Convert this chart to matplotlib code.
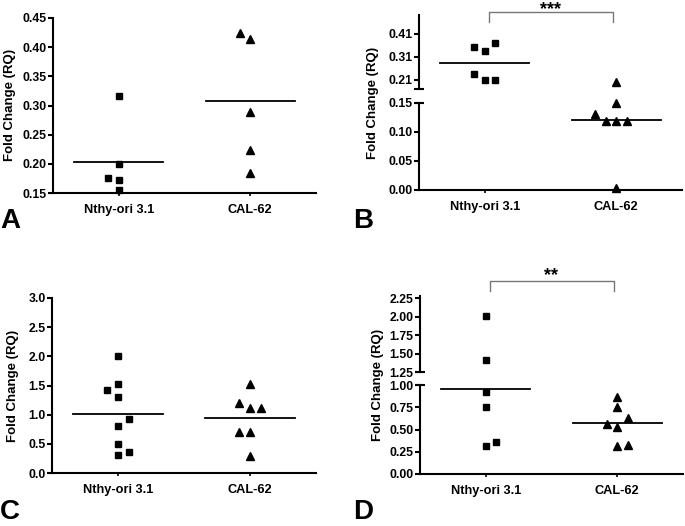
import numpy as np
import matplotlib
matplotlib.use('Agg')
import matplotlib.pyplot as plt
import matplotlib.transforms as mtransforms

plt.rcParams['font.family'] = ['Liberation Sans', 'DejaVu Sans']
plt.rcParams['font.weight'] = 'bold'

groups = ['Nthy-ori 3.1', 'CAL-62']

# panel A
a_nthy = [0.316, 0.199, 0.175, 0.172, 0.155]
a_cal = [0.425, 0.414, 0.289, 0.223, 0.184]
# panel B
b_nthy = [0.352, 0.334, 0.371, 0.236, 0.209, 0.209]
b_cal = [0.200, 0.149, 0.130, 0.119, 0.119, 0.119, 0.003]
# panel C
c_nthy = [2.00, 1.53, 1.42, 1.30, 0.92, 0.80, 0.50, 0.31, 0.36]
c_cal = [1.53, 1.20, 1.11, 1.12, 0.70, 0.70, 0.285]
# panel D
d_nthy = [2.005, 1.418, 0.92, 0.751, 0.309, 0.355]
d_cal = [0.864, 0.750, 0.634, 0.558, 0.525, 0.313, 0.328]

# horizontal spread of overlapping points (steps)
a_nthy_j = [0, 0, -1, 0, 0]
a_cal_j = [-1, 0, 0, 0, 0]
b_nthy_j = [-1, 0, 1, -1, 0, 1]
b_cal_j = [0, 0, -2, -1, 0, 1, 0]
c_nthy_j = [0, 0, -1, 0, 1, 0, 0, 0, 1]
c_cal_j = [0, -1, 0, 1, -1, 0, 0]
d_nthy_j = [0, 0, 0, 0, 0, 1]
d_cal_j = [0, 0, 1, -1, 0, 0, 1]

W, H = 685, 526
fig = plt.figure(figsize=(W/100, H/100), dpi=100)

def rect(x0, yt, x1, yb):
    return [x0/W, 1-yb/H, (x1-x0)/W, (yb-yt)/H]

STEP = 0.081
LW = 1.5
TICKFS = 8.8
CATFS = 9.2

def style(ax, bottom=True):
    for s in ['top', 'right']:
        ax.spines[s].set_visible(False)
    ax.spines['left'].set_linewidth(LW)
    ax.spines['bottom'].set_linewidth(LW)
    if not bottom:
        ax.spines['bottom'].set_visible(False)
    ax.set_xlim(-0.5, 1.5)
    ax.tick_params(axis='y', direction='out', length=3.5, width=LW, labelsize=TICKFS, pad=1)
    if bottom:
        ax.set_xticks([0, 1])
        ax.set_xticklabels(groups, fontsize=CATFS, fontweight='bold')
        ax.tick_params(axis='x', direction='out', length=2, width=1.2, pad=6)
    else:
        ax.set_xticks([])
    for lab in ax.get_yticklabels():
        lab.set_fontweight('bold')

def points(ax, vals, jit, pos, marker, lo=-np.inf, hi=np.inf):
    xs = [pos + j*STEP for v, j in zip(vals, jit) if lo <= v <= hi]
    ys = [v for v in vals if lo <= v <= hi]
    ms = 4.2 if marker == 's' else 5.2
    ax.plot(xs, ys, linestyle='none', marker=marker, color='black', markersize=ms, clip_on=False, zorder=3)

def meanline(ax, vals, pos):
    m = np.mean(vals)
    ax.plot([pos-0.34, pos+0.34], [m, m], color='black', lw=1.3, zorder=2)

def bracket(ax, y, ylegs, stars, ytext):
    tr = mtransforms.blended_transform_factory(ax.transData, ax.transAxes)
    ax.plot([0.03, 0.03, 0.975, 0.975], [ylegs, y, y, ylegs], color='#777777', lw=1.0,
            transform=tr, clip_on=False)
    ax.text(0.5, ytext, stars, transform=tr, ha='center', va='center', fontsize=13, fontweight='bold')

def caps(upper, lower):
    upper.plot([0], [0], marker='_', markersize=7, mew=LW, color='black', transform=upper.transAxes, clip_on=False)
    lower.plot([0], [1], marker='_', markersize=7, mew=LW, color='black', transform=lower.transAxes, clip_on=False)

# ---- A
ax = fig.add_axes(rect(53, 18, 316, 193))
style(ax)
ax.set_ylim(0.15, 0.45)
ax.set_yticks(np.arange(0.15, 0.451, 0.05))
ax.set_yticklabels(['%.2f' % t for t in np.arange(0.15, 0.451, 0.05)])
points(ax, a_nthy, a_nthy_j, 0, 's')
points(ax, a_cal, a_cal_j, 1, '^')
meanline(ax, a_nthy, 0)
meanline(ax, a_cal, 1)

# ---- C
ax = fig.add_axes(rect(52, 298, 316, 473))
style(ax)
ax.set_ylim(0, 3.0)
ax.set_yticks(np.arange(0, 3.01, 0.5))
ax.set_yticklabels(['%.1f' % t for t in np.arange(0, 3.01, 0.5)])
points(ax, c_nthy, c_nthy_j, 0, 's')
points(ax, c_cal, c_cal_j, 1, '^')
meanline(ax, c_nthy, 0)
meanline(ax, c_cal, 1)

# ---- B (broken axis)
bu = fig.add_axes(rect(419, 15, 682, 89))
bl = fig.add_axes(rect(419, 102.7, 682, 190))
style(bu, bottom=False)
style(bl)
bu.set_ylim(0.171, 0.49)
bu.set_yticks([0.21, 0.31, 0.41])
bu.set_yticklabels(['0.21', '0.31', '0.41'])
bl.set_ylim(0, 0.15)
bl.set_yticks([0, 0.05, 0.10, 0.15])
bl.set_yticklabels(['0.00', '0.05', '0.10', '0.15'])
for a, lo, hi in [(bu, 0.16, 1), (bl, -1, 0.16)]:
    points(a, b_nthy, b_nthy_j, 0, 's', lo, hi)
    points(a, b_cal, b_cal_j, 1, '^', lo, hi)
meanline(bu, b_nthy, 0)
meanline(bl, b_cal, 1)
caps(bu, bl)
bracket(bu, 1.04, 0.905, '***', 1.075)

# ---- D (broken axis)
du = fig.add_axes(rect(420, 296, 683, 372))
dl = fig.add_axes(rect(420, 385, 683, 474))
style(du, bottom=False)
style(dl)
du.set_ylim(1.25, 2.28)
du.set_yticks([1.25, 1.50, 1.75, 2.00, 2.25])
du.set_yticklabels(['1.25', '1.50', '1.75', '2.00', '2.25'])
dl.set_ylim(0, 1.0)
dl.set_yticks([0, 0.25, 0.5, 0.75, 1.0])
dl.set_yticklabels(['0.00', '0.25', '0.50', '0.75', '1.00'])
for a, lo, hi in [(du, 1.1, 9), (dl, -1, 1.1)]:
    points(a, d_nthy, d_nthy_j, 0, 's', lo, hi)
    points(a, d_cal, d_cal_j, 1, '^', lo, hi)
meanline(dl, d_nthy, 0)
meanline(dl, d_cal, 1)
caps(du, dl)
bracket(du, 1.197, 1.066, '**', 1.27)

# y labels
for x, y in [(10, 105), (373, 103), (13, 386), (378, 385)]:
    fig.text(x/W, 1-y/H, 'Fold Change (RQ)', rotation=90, ha='center', va='center',
             fontsize=9.5, fontweight='bold')

# panel letters
for x, y, s in [(0, 234, 'A'), (353, 234, 'B'), (0, 525, 'C'), (353, 525, 'D')]:
    fig.text(x/W, 1-y/H, s, ha='left', va='bottom', fontsize=20, fontweight='bold')

fig.savefig('out.png', dpi=100)
